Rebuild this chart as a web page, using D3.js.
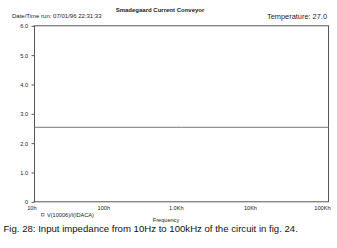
<!DOCTYPE html>
<html><head><meta charset="utf-8">
<script src="https://cdn.jsdelivr.net/npm/d3@7"></script>
<style>body{margin:0;background:#fff}svg{display:block}text{font-family:"Liberation Sans",Arial,sans-serif;fill:#222}</style>
</head><body>
<script>
const title = "Smadegaard Current Conveyor";
const dateText = "Date/Time run: 07/01/96  22:31:33";
const tempText = "Temperature: 27.0";
const caption = "Fig. 28: Input impedance from 10Hz to 100kHz of the circuit in fig. 24.";
const legendLabel = "V(10006)/I(IDACA)";
const xLabel = "Frequency";
const freq = [10, 100, 1000, 10000, 100000];
const impedance = [2.54, 2.54, 2.54, 2.54, 2.54];
const xTickValues = [10, 100, 1000, 10000, 100000];
const xTickLabels = ["10h", "100h", "1.0Kh", "10Kh", "100Kh"];
const yTickValues = [0, 1, 2, 3, 4, 5, 6];
const yTickLabels = ["0", "1.0", "2.0", "3.0", "4.0", "5.0", "6.0"];

const W = 337, H = 248;
const m = {l: 34.5, r: 328.5, t: 25.8, b: 201.8};
const svg = d3.select("body").append("svg").attr("width", W).attr("height", H);
const x = d3.scaleLog().domain([10, 100000]).range([m.l, m.r]);
const y = d3.scaleLinear().domain([0, 6]).range([m.b, m.t]);

// frame
svg.append("rect").attr("x", m.l).attr("y", m.t).attr("width", m.r - m.l).attr("height", m.b - m.t)
  .attr("fill", "none").attr("stroke", "#444").attr("stroke-width", 0.9);

// y axis
const ya = d3.axisLeft(y).tickValues(yTickValues).tickSize(3).tickFormat((d, i) => yTickLabels[i]);
const gy = svg.append("g").attr("transform", `translate(${m.l},0)`).call(ya);
gy.select(".domain").remove();
gy.selectAll("line").attr("stroke", "#555");
gy.selectAll("text").attr("x", -6.5).attr("dy", "0.35em").style("font-size", "5.6px").style("fill", "#222");

// x axis
const xa = d3.axisBottom(x).tickValues(xTickValues).tickSize(0).tickFormat((d, i) => xTickLabels[i]);
const gx = svg.append("g").attr("transform", `translate(0,${m.b})`).call(xa);
gx.select(".domain").remove();
gx.selectAll("text").attr("text-anchor", "end").attr("x", 1.5).attr("y", 4).attr("dy", "0.71em")
  .style("font-size", "5.6px").style("fill", "#222");

// data line
svg.append("path").datum(freq.map((f, i) => [f, impedance[i]]))
  .attr("d", d3.line().x(d => x(d[0])).y(d => y(d[1])))
  .attr("fill", "none").attr("stroke", "#777").attr("stroke-width", 1);

// texts
svg.append("text").attr("x", 160).attr("y", 11.5).attr("text-anchor", "middle")
  .style("font-size", "6px").style("font-weight", "bold").text(title);
svg.append("text").attr("x", 12).attr("y", 18).style("font-size", "6px").text(dateText);
svg.append("text").attr("x", 327).attr("y", 18.5).attr("text-anchor", "end").style("font-size", "7.4px").text(tempText);

// legend
svg.append("rect").attr("x", 41.5).attr("y", 213.5).attr("width", 2.5).attr("height", 2.5)
  .attr("fill", "none").attr("stroke", "#555").attr("stroke-width", 0.6);
svg.append("text").attr("x", 47).attr("y", 217).style("font-size", "5.6px").text(legendLabel);
svg.append("text").attr("x", 166).attr("y", 222).attr("text-anchor", "middle").style("font-size", "5.6px").text(xLabel);

svg.append("text").attr("x", 3.5).attr("y", 232).style("font-size", "9.6px").style("fill", "#111").text(caption);
</script>
</body></html>
